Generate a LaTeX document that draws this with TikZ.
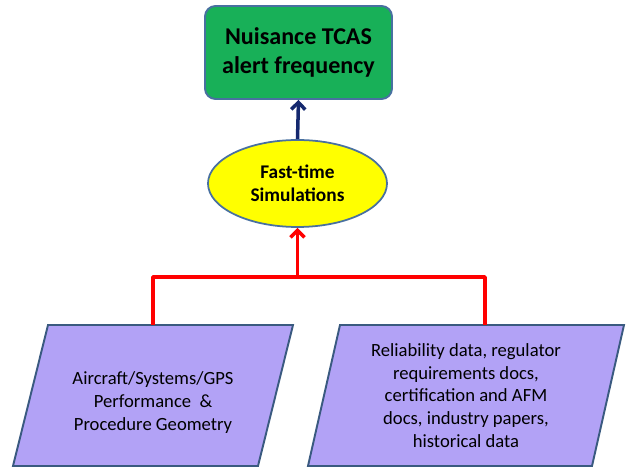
\documentclass[tikz,border=0pt]{standalone}
\usepackage{fontspec}
\setmainfont{Carlito}
\usetikzlibrary{shapes.geometric,arrows.meta,backgrounds}
\definecolor{boxgreen}{RGB}{24,176,88}
\definecolor{edgeblue}{RGB}{72,112,160}
\definecolor{simyellow}{RGB}{255,255,0}
\definecolor{datapurple}{RGB}{178,162,246}
\definecolor{linknavy}{RGB}{20,40,110}
\tikzset{
  outbox/.style={draw=edgeblue,line width=1.1pt,fill=boxgreen,rounded corners=6pt,
    minimum width=3.74cm,minimum height=1.86cm,align=center,
    font=\fontsize{13.7}{16.5}\selectfont\bfseries},
  simnode/.style={draw=edgeblue,line width=1pt,fill=simyellow,ellipse,
    minimum width=3.58cm,minimum height=1.74cm,inner sep=0pt,align=center,
    font=\fontsize{11}{13}\selectfont\bfseries},
  inbox/.style={minimum height=2.82cm,inner sep=0pt,outer sep=0pt,align=center,
    font=\fontsize{10.6}{13}\selectfont},
  inframe/.style={draw=edgeblue!80!black,line width=1.1pt,fill=datapurple},
  redlink/.style={draw=red,line width=2pt},
  navylink/.style={draw=linknavy,line width=2pt}
}
\begin{document}
\begin{tikzpicture}[line join=round,>={Straight Barb[length=4pt,width=8pt]}]
  \useasboundingbox (0,0) rectangle (12.52,-9.36);
  \node[outbox] (alert) at (5.97,-1.05) {Nuisance TCAS\\alert frequency};
  \node[simnode] (sim) at (5.95,-3.67) {Fast-time\\Simulations};
  \node[inbox,minimum width=4.9cm] (perf) at (3.06,-7.91)
    {\\[2pt]Aircraft/Systems/GPS\\Performance~ \&\\Procedure Geometry};
  \node[inbox,minimum width=5.68cm] (data) at (9.32,-7.91)
    {Reliability data, regulator\\requirements docs,\\certification and AFM\\docs, industry papers,\\historical data};
  % slanted frames behind the input texts
  \begin{scope}[on background layer]
    \draw[inframe] ([xshift=-0.35cm]perf.south west) -- ([xshift=-0.35cm]perf.south east)
      -- ([xshift=0.35cm]perf.north east) -- ([xshift=0.35cm]perf.north west) -- cycle;
    \draw[inframe] ([xshift=-0.32cm]data.south west) -- ([xshift=-0.32cm]data.south east)
      -- ([xshift=0.32cm]data.north east) -- ([xshift=0.32cm]data.north west) -- cycle;
  \end{scope}
  \coordinate (fork) at (5.95,-5.54);
  % inputs feed the simulation
  \draw[redlink] (perf.north) |- (fork) -| ([xshift=0.38cm]data.north);
  \draw[redlink,->] (fork) -- (sim.south);
  \draw[navylink,->] (sim.north) -- (alert.south);
\end{tikzpicture}
\end{document}
